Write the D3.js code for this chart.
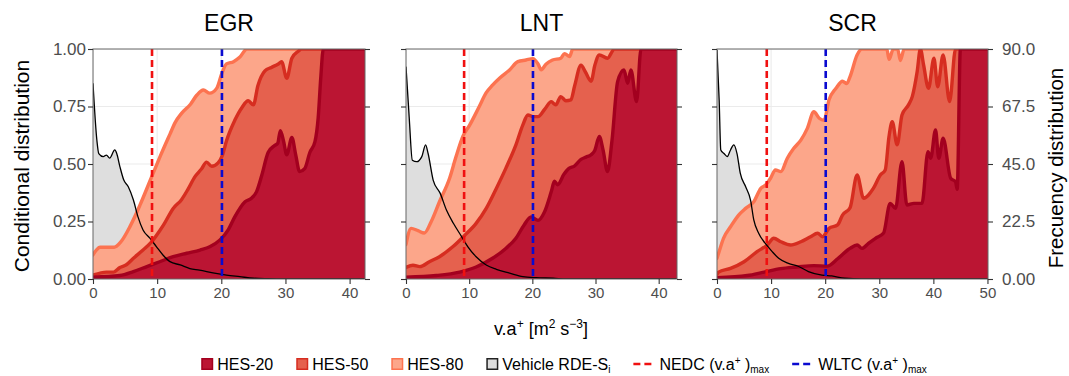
<!DOCTYPE html>
<html><head><meta charset="utf-8">
<script src="https://cdn.jsdelivr.net/npm/d3@7"></script>
<style>body{margin:0;background:#fff} svg{display:block;font-family:"Liberation Sans",Arial,sans-serif}</style>
</head><body><svg id="c" width="1069" height="376"></svg>
<script>
// ---------- DATA ----------
const panelNames = ["EGR", "LNT", "SCR"];
const xMax = [42.4, 42.9, 50.1];
const xTicks = [[0,10,20,30,40],[0,10,20,30,40],[0,10,20,30,40,50]];
const yTicks = [0, 0.25, 0.5, 0.75, 1];
const yTickLabels = ["0.00","0.25","0.50","0.75","1.00"];
const y2Ticks = [0, 22.5, 45, 67.5, 90];
const y2TickLabels = ["0.00","22.5","45.0","67.5","90.0"];
const nedcMax = 9.2;
const wltcMax = 20.1;
const seriesNames = ["HES-20","HES-50","HES-80"];

// EGR  [v.a+, conditional share]
const egrHes80 = [[0,0.105],[0.5,0.125],[1.1,0.138],[3.3,0.138],[4.3,0.16],[5.8,0.23],[7.3,0.32],[9.2,0.448],[10.5,0.535],[12.0,0.63],[12.8,0.68],[13.8,0.72],[15.2,0.76],[16.2,0.8],[17.2,0.822],[18.2,0.808],[19.3,0.83],[20.1,0.895],[20.8,0.935],[21.9,0.945],[22.9,0.965],[24.0,1.0],[42.4,1.0]];
const egrHes50 = [[0,0.017],[2.1,0.03],[3.2,0.03],[4.2,0.05],[5.2,0.062],[6.3,0.09],[7.8,0.126],[9.1,0.16],[10.4,0.21],[11.0,0.235],[12.5,0.307],[13.8,0.345],[14.8,0.39],[15.9,0.445],[16.9,0.478],[17.7,0.508],[18.5,0.49],[19.5,0.505],[20.2,0.54],[20.8,0.6],[22.1,0.69],[23.2,0.745],[24.2,0.775],[25.0,0.757],[25.7,0.84],[26.8,0.905],[27.8,0.92],[28.9,0.935],[29.4,0.945],[30.2,0.873],[31.0,0.96],[32.0,0.99],[32.5,1.0],[42.4,1.0]];
const egrHes20 = [[0,0.008],[4.2,0.015],[6.3,0.032],[8.4,0.054],[10.4,0.075],[12.5,0.097],[14.6,0.112],[16.7,0.126],[18.2,0.14],[19.8,0.17],[21.1,0.215],[22.1,0.27],[23.7,0.336],[24.7,0.351],[25.5,0.38],[26.3,0.45],[27.3,0.55],[28.3,0.58],[28.8,0.59],[29.2,0.645],[29.7,0.6],[30.2,0.54],[31.0,0.615],[31.6,0.54],[32.2,0.467],[33.0,0.48],[33.8,0.55],[34.6,0.597],[35.1,0.7],[35.5,0.873],[35.9,1.0],[42.4,1.0]];
// vehicle RDE frequency distribution [v.a+, frequency]
const egrVehicle = [[0,76.6],[0.6,54.4],[0.9,49.1],[1.6,47.9],[2.1,48.5],[2.6,47.3],[3.4,50.5],[3.7,49.1],[4.2,43.9],[4.8,38.7],[5.5,36.1],[6.3,30.9],[7.0,24.4],[7.8,19.2],[8.9,15.9],[9.9,12.6],[10.9,9.4],[12.0,6.8],[13.6,5.5],[15.1,4.1],[16.6,3.5],[18.7,2.4],[20.8,1.5],[22.9,0.9],[25.0,0.3],[27.2,0.1],[30,0],[42.4,0]];

// LNT
const lntHes80 = [[0,0.15],[0.8,0.22],[1.9,0.21],[2.9,0.2],[4.0,0.25],[5.3,0.336],[6.9,0.438],[7.9,0.53],[9.0,0.62],[10.1,0.67],[11.6,0.75],[12.7,0.81],[13.7,0.843],[14.8,0.873],[16.4,0.909],[17.7,0.945],[19.0,0.952],[20.1,0.958],[20.9,0.935],[21.4,0.91],[22.2,0.935],[23.2,0.952],[24.5,0.96],[25.1,0.98],[25.9,0.967],[26.4,1.0],[42.9,1.0]];
const lntHes50 = [[0,0.05],[1.1,0.06],[2.2,0.054],[3.7,0.075],[5.3,0.097],[7.4,0.14],[9.3,0.19],[11.1,0.242],[12.7,0.307],[14.3,0.394],[15.8,0.481],[17.4,0.583],[18.5,0.67],[19.3,0.713],[20.1,0.706],[20.9,0.706],[22.0,0.74],[23.0,0.771],[23.7,0.757],[24.5,0.793],[25.3,0.775],[26.1,0.779],[26.7,0.84],[27.7,0.93],[28.4,0.9],[29.3,0.86],[29.9,0.93],[30.6,0.974],[31.9,0.96],[33.0,1.0],[42.9,1.0]];
const lntHes20 = [[0,0.008],[4.8,0.015],[8.5,0.03],[11.1,0.052],[13.7,0.09],[15.8,0.133],[17.4,0.177],[18.7,0.235],[19.8,0.27],[20.9,0.255],[21.9,0.29],[23.0,0.38],[23.5,0.425],[24.0,0.41],[25.0,0.455],[25.8,0.481],[26.6,0.49],[27.7,0.52],[28.5,0.53],[29.3,0.54],[29.9,0.56],[30.6,0.62],[31.2,0.56],[31.9,0.467],[32.6,0.6],[33.5,0.858],[34.5,0.909],[35.1,0.851],[35.6,0.909],[36.5,0.771],[37.2,1.0],[42.9,1.0]];
const lntVehicle = [[0,83.1],[0.5,63.5],[1.0,46.5],[1.7,45.9],[2.5,47.9],[3.1,52.5],[3.5,49.1],[4.3,38.7],[5.4,33.6],[6.4,27],[7.5,21.8],[8.8,16.6],[9.8,12.6],[11.1,8.7],[12.7,5.5],[14.3,3.8],[16.4,2.3],[18.5,0.9],[20.6,0.5],[23.3,0.3],[25.4,0],[42.9,0]];

// SCR
const scrHes80 = [[0,0.09],[0.4,0.12],[1.2,0.177],[2.5,0.227],[4.0,0.278],[5.3,0.307],[6.8,0.336],[8.1,0.394],[9.0,0.409],[9.9,0.438],[10.8,0.474],[11.8,0.467],[13.0,0.525],[14.2,0.568],[15.5,0.604],[16.7,0.655],[17.9,0.727],[18.9,0.699],[19.8,0.69],[20.7,0.778],[22.0,0.829],[23.2,0.86],[24.0,0.85],[24.6,0.88],[25.9,0.974],[26.8,1.0],[31.4,1.0],[31.8,0.955],[32.6,1.0],[33.4,1.0],[33.9,0.95],[34.6,1.0],[50.1,1.0]];
const scrHes50 = [[0,0.02],[0.3,0.03],[2.5,0.046],[5.0,0.075],[7.4,0.119],[9.3,0.148],[10.5,0.177],[11.8,0.162],[13.6,0.148],[15.5,0.162],[17.3,0.184],[18.6,0.199],[19.5,0.184],[20.7,0.22],[22.3,0.235],[23.2,0.278],[24.6,0.31],[25.9,0.452],[27.1,0.351],[28.9,0.394],[30.2,0.452],[31.1,0.474],[31.8,0.62],[32.4,0.684],[33.3,0.583],[34.2,0.713],[35.4,0.757],[36.1,0.793],[37.0,0.901],[37.6,1.0],[38.2,0.93],[39.1,0.829],[40.1,0.96],[40.8,0.836],[41.8,0.974],[43.0,0.771],[44.1,1.0],[50.1,1.0]];
const scrHes20 = [[0,0.006],[5.6,0.015],[8.7,0.03],[11.8,0.045],[14.8,0.052],[17.9,0.058],[20.4,0.056],[22.3,0.088],[24.1,0.125],[24.6,0.133],[25.9,0.148],[26.8,0.133],[28.0,0.155],[29.3,0.177],[30.8,0.2],[32.0,0.329],[33.0,0.307],[34.2,0.51],[35.1,0.322],[36.4,0.329],[37.9,0.329],[39.0,0.553],[39.5,0.525],[40.4,0.648],[41.0,0.525],[41.8,0.612],[43.2,0.438],[44.1,0.423],[44.4,0.39],[45.0,1.0],[50.1,1.0]];
const scrVehicle = [[0,89.6],[0.4,70],[0.7,50.5],[1.3,49.1],[1.9,47.9],[2.5,50.5],[3.1,52.5],[3.7,49.1],[4.3,41.4],[5.3,36.1],[6.2,30.9],[6.8,23.1],[7.7,17.9],[8.9,14],[10.2,10.7],[11.4,8.1],[13.2,6.1],[15.1,4.9],[16.9,2.9],[19.4,1.5],[21.2,1.2],[23.6,0.3],[26.7,0],[50.1,0]];

const panelData = [
  {hes: [egrHes20, egrHes50, egrHes80], veh: egrVehicle},
  {hes: [lntHes20, lntHes50, lntHes80], veh: lntVehicle},
  {hes: [scrHes20, scrHes50, scrHes80], veh: scrVehicle}
];

// ---------- STYLE ----------
const fills = ["#BB1533", "#E5614E", "#FCA68A"];
const strokes = ["#A3001F", "#D62D20", "#FC7350"];
const vehFill = "#DEDEDE";
const panelX = [[93,365],[406,677],[717,988]];
const yTop = 49, yBot = 279;
const tickColor = "#4D4D4D";

const svg = d3.select("#c");
const defs = svg.append("defs");

const y = d3.scaleLinear().domain([0,1]).range([yBot, yTop]);
const y2 = d3.scaleLinear().domain([0,90]).range([yBot, yTop]);

panelNames.forEach((name, i) => {
  const [x0, x1] = panelX[i];
  const x = d3.scaleLinear().domain([0, xMax[i]]).range([x0, x1]);
  const g = svg.append("g");
  const cid = "clip" + i;
  defs.append("clipPath").attr("id", cid).append("rect")
    .attr("x", x0).attr("y", yTop).attr("width", x1 - x0).attr("height", yBot - yTop);

  // title
  svg.append("text").attr("x", (x0 + x1) / 2).attr("y", 31).attr("text-anchor", "middle")
    .attr("font-size", 23).attr("fill", "#000").text(name);

  // grid
  const grid = g.append("g").attr("clip-path", `url(#${cid})`);
  grid.selectAll("line.h").data(yTicks).join("line")
    .attr("x1", x0).attr("x2", x1).attr("y1", d => y(d)).attr("y2", d => y(d))
    .attr("stroke", "#EBEBEB").attr("stroke-width", 1.1);
  grid.selectAll("line.v").data(xTicks[i]).join("line")
    .attr("x1", d => x(d)).attr("x2", d => x(d)).attr("y1", yTop).attr("y2", yBot)
    .attr("stroke", "#EBEBEB").attr("stroke-width", 1.1);

  const plot = g.append("g").attr("clip-path", `url(#${cid})`);
  const d = panelData[i];

  // vehicle gray area
  const vehArea = d3.area().x(p => x(p[0])).y0(yBot).y1(p => y2(p[1])).curve(d3.curveMonotoneX);
  plot.append("path").datum(d.veh).attr("d", vehArea).attr("fill", vehFill);

  const area = d3.area().x(p => x(p[0])).y0(yBot).y1(p => y(p[1])).curve(d3.curveMonotoneX);
  const line = d3.line().x(p => x(p[0])).y(p => y(p[1])).curve(d3.curveMonotoneX);
  [2, 1, 0].forEach(k => {
    plot.append("path").datum(d.hes[k]).attr("d", area).attr("fill", fills[k]);
    plot.append("path").datum(d.hes[k]).attr("d", line).attr("fill", "none")
      .attr("stroke", strokes[k]).attr("stroke-width", 3.4)
      .attr("stroke-linejoin", "round").attr("stroke-linecap", "round");
  });

  // vehicle line
  const vehLine = d3.line().x(p => x(p[0])).y(p => y2(p[1])).curve(d3.curveMonotoneX);
  plot.append("path").datum(d.veh).attr("d", vehLine).attr("fill", "none")
    .attr("stroke", "#000").attr("stroke-width", 1.3);

  // reference lines
  [[nedcMax, "#F01010"], [wltcMax, "#0A0AD0"]].forEach(([v, c]) => {
    plot.append("line").attr("x1", x(v)).attr("x2", x(v)).attr("y1", yTop).attr("y2", yBot)
      .attr("stroke", c).attr("stroke-width", 2.6).attr("stroke-dasharray", "7,4");
  });

  // border
  g.append("rect").attr("x", x0).attr("y", yTop).attr("width", x1 - x0).attr("height", yBot - yTop)
    .attr("fill", "none").attr("stroke", "#666").attr("stroke-width", 1);

  // axes
  const ax = g.append("g").attr("transform", `translate(0,${yBot})`)
    .call(d3.axisBottom(x).tickValues(xTicks[i]).tickSize(5).tickPadding(3).tickFormat(d3.format("d")));
  const axL = g.append("g").attr("transform", `translate(${x0},0)`)
    .call(d3.axisLeft(y).tickValues(yTicks).tickSize(5).tickPadding(2)
      .tickFormat((v, j) => i === 0 ? yTickLabels[j] : ""));
  const axR = g.append("g").attr("transform", `translate(${x1},0)`)
    .call(d3.axisRight(y2).tickValues(y2Ticks).tickSize(5).tickPadding(9)
      .tickFormat((v, j) => i === 2 ? y2TickLabels[j] : ""));
  [ax, axL, axR].forEach((a, ai) => {
    a.select(".domain").remove();
    a.selectAll(".tick line").attr("stroke", "#333").attr("stroke-width", 1.1);
    a.selectAll(".tick text").attr("fill", tickColor).attr("font-size", ai === 0 ? 15 : 17)
      .attr("font-family", '"Liberation Sans",Arial,sans-serif');
  });
});

// axis titles
svg.append("text").attr("transform", "translate(29,166) rotate(-90)").attr("text-anchor", "middle")
  .attr("font-size", 21).attr("fill", "#000").text("Conditional distribution");
svg.append("text").attr("transform", "translate(1063,168) rotate(-90)").attr("text-anchor", "middle")
  .attr("font-size", 20.5).attr("fill", "#000").text("Frecuency distribution");

// text with super/subscripts as separate text runs
function richText(parent, x, yb, parts, size, small, anchor, shift) {
  const gg = parent.append("g");
  let cx = 0;
  parts.forEach(([s, lvl]) => {
    const t = gg.append("text").attr("x", x + cx).attr("y", yb + lvl * shift)
      .attr("font-size", lvl === 0 ? size : small).attr("fill", "#000").text(s)
      .style("white-space", "pre");
    cx += t.node().getComputedTextLength();
  });
  if (anchor === "middle") gg.attr("transform", `translate(${-cx / 2},0)`);
  return cx;
}
richText(svg, 541, 335, [["v.a", 0], ["+", -1], [" [m", 0], ["2", -1], [" s", 0], ["\u22123", -1], ["]", 0]], 18, 12, "middle", 7);

// legend
const leg = svg.append("g");
const legY = 364;
const legFont = 16;
const legGap = 23;
let lx = 0;
const items = [];
seriesNames.forEach((s, k) => items.push({type: "box", fill: fills[k], stroke: strokes[k], parts: [[s, 0]]}));
items.push({type: "box", fill: vehFill, stroke: "#222", parts: [["Vehicle RDE-S", 0], ["i", 1]]});
items.push({type: "dash", stroke: "#F01010", parts: [["NEDC (v.a", 0], ["+", -2], [" )", 0], ["max", 1]]});
items.push({type: "dash", stroke: "#0A0AD0", parts: [["WLTC (v.a", 0], ["+", -2], [" )", 0], ["max", 1]]});
items.forEach(it => {
  const gi = leg.append("g").attr("transform", `translate(${lx},0)`);
  let kw;
  if (it.type === "box") {
    gi.append("rect").attr("x", 0.75).attr("y", legY - 5.25).attr("width", 10.5).attr("height", 10.5)
      .attr("fill", it.fill).attr("stroke", it.stroke).attr("stroke-width", 1.5);
    kw = 12;
  } else {
    gi.append("line").attr("x1", 0).attr("x2", 22).attr("y1", legY).attr("y2", legY)
      .attr("stroke", it.stroke).attr("stroke-width", 2.6).attr("stroke-dasharray", "7,4");
    kw = 22;
  }
  const w = richText(gi, kw + 4, legY + 6, it.parts, legFont, 10, "start", 3);
  lx += kw + 4 + w + legGap;
});
const legW = lx - legGap;
leg.attr("transform", `translate(${564 - legW / 2},0)`);
</script></body></html>
